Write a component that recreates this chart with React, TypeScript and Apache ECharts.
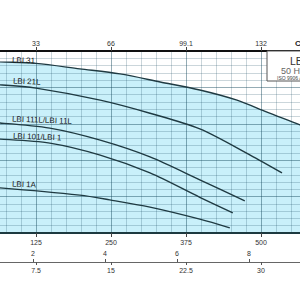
import React, { useEffect, useRef } from "react";
import * as echarts from "echarts";

// Flow in l/min (main scale), head in m
const flowTicksLpm = [125, 250, 375, 500];
const gpmLabels = ["33", "66", "99.1", "132"];
const lpsTicks = [2, 4, 6, 8];
const m3hTicks = [7.5, 15, 22.5, 30];

const curveNames = ["LBI 31", "LBI 21L", "LBI 111L/LBI 11L", "LBI 101/LBI 1", "LBI 1A"];

const lbi31Q = [0, 65, 125, 198, 265, 332, 398, 460, 510, 565, 600];
const lbi31H = [47.5, 47.0, 46.6, 45.1, 43.7, 41.5, 39.3, 36.5, 33.2, 29.7, 27.3];

const lbi21Q = [0, 65, 125, 232, 315, 398, 482, 535];
const lbi21H = [41.2, 40.7, 39.8, 36.5, 32.9, 28.6, 21.4, 16.5];

const lbi111Q = [0, 65, 148, 232, 315, 398, 473];
const lbi111H = [30.7, 30.2, 28.8, 25.5, 20.9, 14.6, 8.8];

const lbi101Q = [0, 65, 148, 232, 315, 398, 453];
const lbi101H = [26.2, 25.8, 24.7, 21.4, 16.5, 9.8, 5.5];

const lbi1AQ = [0, 65, 198, 248, 315, 398, 448];
const lbi1AH = [13.0, 12.4, 10.4, 9.1, 7.1, 3.8, 1.4];

const curvesQ = [lbi31Q, lbi21Q, lbi111Q, lbi101Q, lbi1AQ];
const curvesH = [lbi31H, lbi21H, lbi111H, lbi101H, lbi1AH];

const OFF = 60; // container shifted left by this many px
const FONT = "'Liberation Sans', Arial, sans-serif";

export default function App() {
  const ref = useRef<HTMLDivElement>(null);
  useEffect(() => {
    if (!ref.current) return;
    const chart = echarts.init(ref.current, undefined, { renderer: "svg" });
    const zip = (q: number[], h: number[]) => q.map((v, i) => [v, h[i]]);
    const minorCol = "rgba(20,70,90,0.22)";
    const majorCol = "rgba(20,70,90,0.45)";
    const lineCol = "#1f3a42";

    const series: any[] = [
      {
        type: "line",
        name: "area",
        data: zip(lbi31Q, lbi31H),
        smooth: 0.3,
        showSymbol: false,
        symbol: "none",
        z: -1,
        lineStyle: { width: 0, opacity: 0 },
        areaStyle: { color: "#c9f0fa", opacity: 1 },
        silent: true,
      },
    ];
    curveNames.forEach((n, i) => {
      series.push({
        type: "line",
        name: n,
        data: zip(curvesQ[i], curvesH[i]),
        smooth: 0.3,
        showSymbol: false,
        symbol: "none",
        z: 3,
        lineStyle: { color: lineCol, width: 1.4 },
      });
    });

    const labelPos = [
      [12, 60],
      [13, 81],
      [12, 119],
      [13, 136],
      [12, 184],
    ];

    const graphic: any[] = curveNames.map((n, i) => ({
      type: "text",
      x: labelPos[i][0] + OFF,
      y: labelPos[i][1],
      rotation: -0.04,
      style: {
        text: n,
        fontSize: 8,
        fontFamily: FONT,
        fill: "#1a1a1a",
        verticalAlign: "middle",
      },
      z: 10,
    }));
    graphic.push(
      {
        type: "rect",
        shape: { x: 267 + OFF, y: 51, width: 80, height: 30 },
        style: { fill: "#ffffff", stroke: "#555", lineWidth: 1 },
        z: 9,
      },
      {
        type: "text",
        x: 290 + OFF,
        y: 60.5,
        style: { text: "LBI", fontSize: 10.5, fontFamily: FONT, fill: "#333", verticalAlign: "middle" },
        z: 10,
      },
      {
        type: "text",
        x: 281 + OFF,
        y: 70.5,
        style: { text: "50 Hz", fontSize: 9, fontFamily: FONT, fill: "#666", verticalAlign: "middle" },
        z: 10,
      },
      {
        type: "text",
        x: 277 + OFF,
        y: 78,
        style: { text: "ISO 9906 Annex A", fontSize: 5, fontFamily: FONT, fill: "#444", verticalAlign: "middle" },
        z: 10,
      },
      {
        type: "text",
        x: 295 + OFF,
        y: 43,
        style: { text: "C", fontSize: 8, fontWeight: "bold", fontFamily: FONT, fill: "#222", verticalAlign: "middle" },
        z: 10,
      }
    );

    chart.setOption({
      animation: false,
      backgroundColor: "#ffffff",
      textStyle: { fontFamily: FONT },
      grid: { left: 21, top: 51, width: 375, height: 182, containLabel: false },
      xAxis: [
        {
          type: "value",
          position: "bottom",
          min: 0,
          max: 625,
          interval: 125,
          axisLine: { show: true, onZero: false, lineStyle: { color: "#1d3a40", width: 2 } },
          axisTick: { show: true, length: 4, lineStyle: { color: "#444" } },
          axisLabel: {
            fontSize: 7,
            color: "#333",
            margin: 6,
            formatter: (v: number) => (flowTicksLpm.includes(v) ? String(v) : ""),
          },
          splitLine: { show: true, lineStyle: { color: majorCol, width: 1 } },
          minorTick: { show: false, splitNumber: 5 },
          minorSplitLine: { show: true, lineStyle: { color: minorCol, width: 1 } },
        },
        {
          type: "value",
          position: "top",
          min: 0,
          max: 625,
          interval: 125,
          axisLine: { show: true, onZero: false, lineStyle: { color: "#111", width: 2 } },
          axisTick: { show: true, length: 4, lineStyle: { color: "#444" } },
          axisLabel: {
            fontSize: 7,
            color: "#333",
            margin: 4,
            formatter: (v: number) => {
              const i = Math.round(v / 125) - 1;
              return Math.abs(v - (i + 1) * 125) < 1e-6 && gpmLabels[i] !== undefined ? gpmLabels[i] : "";
            },
          },
          splitLine: { show: false },
        },
        {
          type: "value",
          position: "bottom",
          offset: 29,
          min: 0,
          max: 625 / 60,
          interval: 2,
          axisLine: { show: true, onZero: false, lineStyle: { color: "#666", width: 1 } },
          axisTick: { show: true, inside: true, length: 3, lineStyle: { color: "#555" } },
          axisLabel: {
            inside: true,
            fontSize: 7,
            color: "#333",
            margin: 5,
            formatter: (v: number) => (lpsTicks.includes(v) ? String(v) : ""),
          },
          splitLine: { show: false },
        },
        {
          type: "value",
          position: "bottom",
          offset: 29,
          min: 0,
          max: 37.5,
          interval: 7.5,
          axisLine: { show: false, onZero: false },
          axisTick: { show: true, length: 3, lineStyle: { color: "#555" } },
          axisLabel: {
            fontSize: 7,
            color: "#333",
            margin: 5,
            formatter: (v: number) => (m3hTicks.includes(v) ? String(v) : ""),
          },
          splitLine: { show: false },
        },
      ],
      yAxis: {
        type: "value",
        min: 0,
        max: 50,
        interval: 10,
        axisLine: { show: false },
        axisTick: { show: false },
        axisLabel: { show: false },
        splitLine: { show: true, lineStyle: { color: majorCol, width: 1 } },
        minorTick: { show: false, splitNumber: 5 },
        minorSplitLine: { show: true, lineStyle: { color: minorCol, width: 1 } },
      },
      series,
      graphic,
    });
    return () => chart.dispose();
  }, []);
  return (
    <div
      ref={ref}
      style={{ position: "fixed", left: -OFF, top: 0, width: 420, height: 300 }}
    />
  );
}
